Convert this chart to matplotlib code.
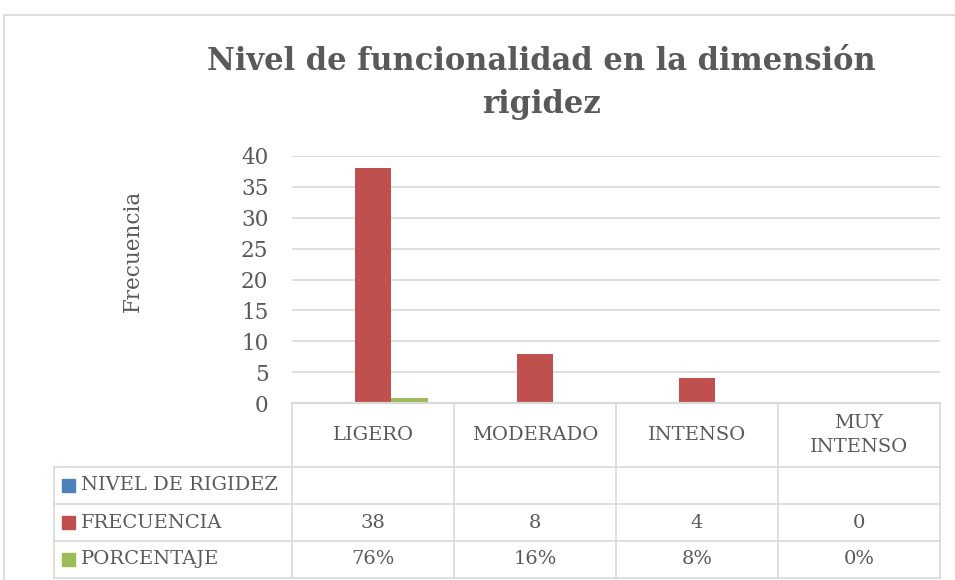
import matplotlib
matplotlib.use("Agg")
import matplotlib.pyplot as plt
import matplotlib.transforms as mtransforms
from matplotlib.lines import Line2D
from matplotlib.patches import Rectangle
import numpy as np

categories = ["LIGERO", "MODERADO", "INTENSO", "MUY\nINTENSO"]
series_names = ["NIVEL DE RIGIDEZ", "FRECUENCIA", "PORCENTAJE"]
nivel = [np.nan, np.nan, np.nan, np.nan]
frecuencia = [38, 8, 4, 0]
porcentaje = [0.76, 0.16, 0.08, 0.0]
frec_labels = ["38", "8", "4", "0"]
porc_labels = ["76%", "16%", "8%", "0%"]
yticks = [0, 5, 10, 15, 20, 25, 30, 35, 40]

colors = ["#4F81BD", "#C0504D", "#9BBB59"]
text_col = "#595959"
grid_col = "#D9D9D9"
FONT = "DejaVu Serif"

W, H = 955, 580
fig = plt.figure(figsize=(W / 100, H / 100), dpi=100)

def fx(x):
    return x / W

def fy(y):
    return 1 - y / H

# outer chart frame
fig.add_artist(Line2D([fx(4), fx(955)], [fy(15), fy(15)], color=grid_col, lw=1.2))
fig.add_artist(Line2D([fx(4), fx(4)], [fy(15), fy(580)], color=grid_col, lw=1.2))

ax_l, ax_r, ax_t, ax_b = 292, 940, 156, 403
ax = fig.add_axes([fx(ax_l), fy(ax_b), (ax_r - ax_l) / W, (ax_b - ax_t) / H])

x = np.arange(len(categories))
bw = 0.225
for k, (vals, c) in enumerate(zip([nivel, frecuencia, porcentaje], colors)):
    ax.bar(x + (k - 1) * bw, vals, width=bw, color=c, zorder=3)

ax.set_xlim(-0.5, len(categories) - 0.5)
ax.set_ylim(0, 40)
ax.set_yticks(yticks)
ax.set_yticklabels([str(t) for t in yticks], fontsize=15.5, color=text_col, family=FONT)
ax.tick_params(axis="y", length=0, pad=17)
ax.set_xticks([])
ax.grid(axis="y", color=grid_col, lw=1.2, zorder=0)
for s in ["left", "right", "top"]:
    ax.spines[s].set_visible(False)
ax.spines["bottom"].set_color(grid_col)
ax.spines["bottom"].set_linewidth(1.6)
ax.spines["bottom"].set_zorder(5)

fig.text(fx(133), fy(251), "Frecuencia", rotation=90, ha="center", va="center",
         fontsize=15.5, color=text_col, family=FONT)

fig.text(fx(541), fy(62), "Nivel de funcionalidad en la dimensión", ha="center", va="center",
         fontsize=22, fontweight="bold", color=text_col, family=FONT)
fig.text(fx(541), fy(105), "rigidez", ha="center", va="center",
         fontsize=22, fontweight="bold", color=text_col, family=FONT)

# data table
tr = mtransforms.blended_transform_factory(ax.transData, fig.transFigure)
rows_y = [403, 467, 504, 541, 578]
tab_left = 54
n = len(categories)
for i in range(n + 1):
    fig.add_artist(Line2D([i - 0.5, i - 0.5], [fy(rows_y[0]), fy(rows_y[-1])],
                          color=grid_col, lw=1.2, transform=tr))
fig.add_artist(Line2D([fx(tab_left), fx(tab_left)], [fy(rows_y[1]), fy(rows_y[-1])],
                      color=grid_col, lw=1.2))
for yy in rows_y[1:]:
    fig.add_artist(Line2D([fx(tab_left), fx(ax_r)], [fy(yy), fy(yy)], color=grid_col, lw=1.2))

fs = 14
for i, cat in enumerate(categories):
    fig.text(i, fy((rows_y[0] + rows_y[1]) / 2), cat, transform=tr, ha="center", va="center",
             fontsize=fs, color=text_col, family=FONT, linespacing=1.5)
    fig.text(i, fy((rows_y[2] + rows_y[3]) / 2), frec_labels[i], transform=tr, ha="center",
             va="center", fontsize=fs, color=text_col, family=FONT)
    fig.text(i, fy((rows_y[3] + rows_y[4]) / 2), porc_labels[i], transform=tr, ha="center",
             va="center", fontsize=fs, color=text_col, family=FONT)

for r, (name, c) in enumerate(zip(series_names, colors)):
    yc = (rows_y[r + 1] + rows_y[r + 2]) / 2
    fig.add_artist(Rectangle((fx(62), fy(yc + 6.5)), 13 / W, 13 / H, color=c,
                             transform=fig.transFigure))
    fig.text(fx(81), fy(yc), name, ha="left", va="center", fontsize=fs,
             color=text_col, family=FONT)

fig.savefig("out.png", dpi=100)
